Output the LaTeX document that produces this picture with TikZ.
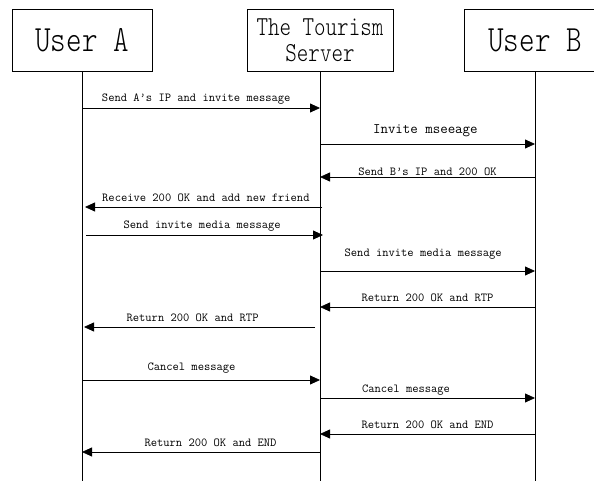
\documentclass[tikz,border=0pt]{standalone}
\usepackage{fontspec}
\usetikzlibrary{arrows.meta}
\newfontfamily\headfont{lmmonolt10-regular.otf}[FakeStretch=0.8]

\tikzset{
	party/.style={draw, line width=0.7pt, minimum width=140pt, minimum height=62pt,
		inner sep=0pt, align=center, font=\headfont\fontsize{37}{37}\selectfont},
	lifeline/.style={line width=0.7pt},
	msg/.style={line width=0.8pt, -{Triangle[length=10pt,width=9pt]}},
	lbl/.style={inner sep=0pt, anchor=base, yshift=6pt,
		font=\ttfamily\fontsize{12.2}{14}\selectfont}
}

\begin{document}
\begin{tikzpicture}[x=1pt, y=-1pt]
	\useasboundingbox (0,0) rectangle (594,481);
	\clip (0,0) rectangle (594,481);
	% the three parties
	\node[party] (userA) at (82,40) {User A};
	\node[party, minimum width=146pt,
		font=\headfont\fontsize{27.4}{26}\selectfont] (server) at (320,40) {The Tourism\\Server};
	\node[party, minimum width=142pt] (userB) at (535,40) {User B};
	\coordinate (bottom) at (0,481);
	% lifelines
	\draw[lifeline] (userA.south) -- (userA.south |- bottom);
	\draw[lifeline] (server.south) -- (server.south |- bottom);
	\draw[lifeline] (userB.south) -- (userB.south |- bottom);
	% messages
	\draw[msg] (userA |- 0,108) -- node[lbl, pos=.48] {Send A’s IP and invite message} (server |- 0,108);
	\draw[msg] (server |- 0,144) -- node[lbl, pos=.49, yshift=4pt,
		font=\ttfamily\fontsize{14.5}{16}\selectfont] {Invite mseeage} (userB |- 0,144);
	\draw[msg] (userB |- 0,177) -- node[lbl, pos=.5, yshift=-5pt] {Send B’s IP and 200 OK} (server |- 0,177);
	\draw[msg] ([xshift=2pt]server |- 0,207) -- node[lbl, pos=.49] {Receive 200 OK and add new friend} ([xshift=3pt]userA |- 0,207);
	\draw[msg] ([xshift=4pt]userA |- 0,235) -- node[lbl, pos=.49] {Send invite media message} ([xshift=3pt]server |- 0,235);
	\draw[msg] (server |- 0,271) -- node[lbl, pos=.48, yshift=9pt] {Send invite media message} (userB |- 0,271);
	\draw[msg] (userB |- 0,307) -- node[lbl, pos=.5] {Return 200 OK and RTP} (server |- 0,307);
	\draw[msg] ([xshift=-5pt]server |- 0,327) -- node[lbl, pos=.53] {Return 200 OK and RTP} ([xshift=2pt]userA |- 0,327);
	\draw[msg] (userA |- 0,380) -- node[lbl, pos=.46, yshift=4pt] {Cancel message} (server |- 0,380);
	\draw[msg] (server |- 0,398) -- node[lbl, pos=.4] {Cancel message} (userB |- 0,398);
	\draw[msg] (userB |- 0,434) -- node[lbl, pos=.5] {Return 200 OK and END} (server |- 0,434);
	\draw[msg] (server |- 0,452) -- node[lbl, pos=.46] {Return 200 OK and END} (userA |- 0,452);
\end{tikzpicture}
\end{document}
